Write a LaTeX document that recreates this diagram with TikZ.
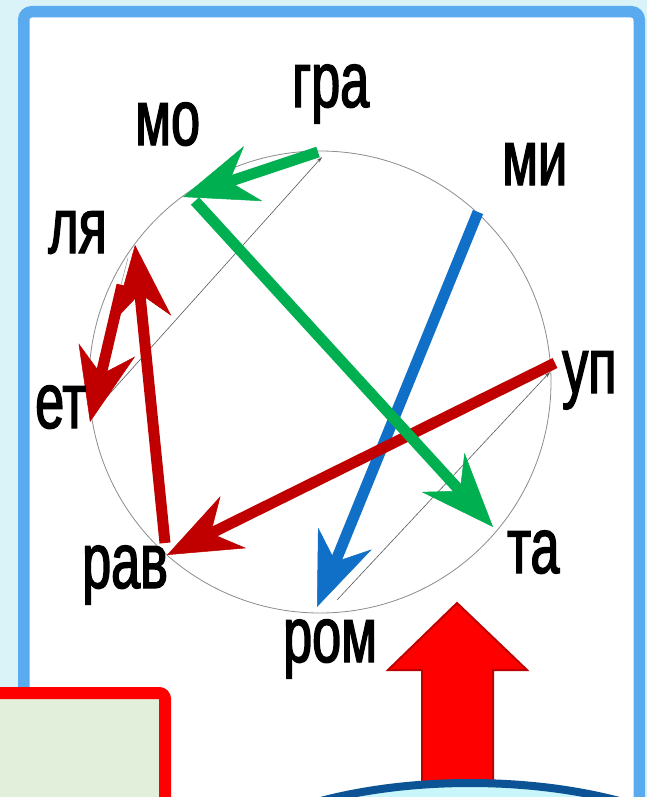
\documentclass[tikz,border=0pt]{standalone}
\usepackage{fontspec}
\newfontfamily\lblfont[FakeStretch=0.66,FakeBold=1.8]{Liberation Sans}
\usetikzlibrary{arrows.meta}
\definecolor{bgcyan}{HTML}{DAF3F8}
\definecolor{frameblue}{HTML}{5AAAF0}
\definecolor{grn}{HTML}{00B050}
\definecolor{blu}{HTML}{1070C8}
\definecolor{dred}{HTML}{C00000}
\definecolor{boxfill}{HTML}{E2F0DB}
\definecolor{ellblue}{HTML}{0B5394}
\definecolor{ellfill}{HTML}{C8F6FB}
\definecolor{brightred}{HTML}{FF0000}
\begin{document}
\begin{tikzpicture}[x=1pt,y=-1pt,
  lbl/.style={font=\lblfont\fontsize{79}{80}\selectfont, inner sep=0pt, anchor=base west, text=black},
  bigarrow/.style={line width=11pt, -{Stealth[length=74pt,width=58pt,inset=25pt,line width=0.5pt]}},
  thinarrow/.style={line width=0.6pt, draw=black!65, -{Stealth[length=6pt,width=3.5pt]}},
  thinline/.style={line width=0.5pt, draw=black!40},
]
\useasboundingbox (0,0) rectangle (647,797);
\clip (0,0) rectangle (647,797);
\fill[bgcyan] (0,0) rectangle (647,797);
% frame
\draw[frameblue, line width=11.5pt, fill=white, rounded corners=8pt] (23.75,11.75) rectangle (639.25,840);
% circle
\draw[black!45, line width=0.8pt] (320,382) circle [radius=231];
% named points
\coordinate (gra) at (318,152);
\coordinate (mo) at (183,197);
\coordinate (mostart) at (195,201);
\coordinate (ta) at (493,527);
\coordinate (mi) at (478,212);
\coordinate (rom) at (317,607);
\coordinate (up) at (555,363);
\coordinate (rav) at (167,555);
\coordinate (ravstart) at (165,543);
\coordinate (lya) at (135,245);
\coordinate (lyastart) at (122,285);
\coordinate (et) at (90,422);
\coordinate (etthin) at (95,410);
\coordinate (grathin) at (322,157);
\coordinate (romthin) at (337,600);
\coordinate (upthin) at (550,372);
\coordinate (lyathin) at (128,258);
\coordinate (etthin2) at (93,392);
% thin original lines
\draw[thinarrow] (etthin) -- (grathin);
\draw[thinarrow] (romthin) -- (upthin);
\draw[thinline] (lyathin) -- (etthin2);
% coloured arrows
\draw[bigarrow, blu] (mi) -- (rom);
\draw[bigarrow, dred] (up) -- (rav);
\draw[bigarrow, grn] (mostart) -- (ta);
\draw[bigarrow, grn] (gra) -- (mo);
\draw[bigarrow, dred] (ravstart) -- (lya);
\draw[bigarrow, dred] (lyastart) -- (et);
% labels
\node[lbl] (tgra) at (292,107) {гра};
\node[lbl] (tmo) at (135,145) {мо};
\node[lbl] (tmi) at (502,185) {ми};
\node[lbl] (tlya) at (48,253) {ля};
\node[lbl] (tet) at (35,428) {ет};
\node[lbl] (tup) at (562,393) {уп};
\node[lbl] (tta) at (507,573) {та};
\node[lbl] (trom) at (283,662) {ром};
\node[lbl] (trav) at (82,588) {рав};
% bottom left box
\draw[brightred, line width=12pt, fill=boxfill, rounded corners=6pt] (-30,693) rectangle (165,860);
% block arrow
\draw[fill=brightred, draw=dred, line width=2pt, line join=miter] (457,603) -- (527,670) -- (493,670) -- (493,790) -- (422,790) -- (422,670) -- (388,670) -- cycle;
% bottom ellipse
\draw[ellblue, line width=8pt, fill=ellfill] (470,900) ellipse [x radius=280, y radius=117];
\end{tikzpicture}
\end{document}
